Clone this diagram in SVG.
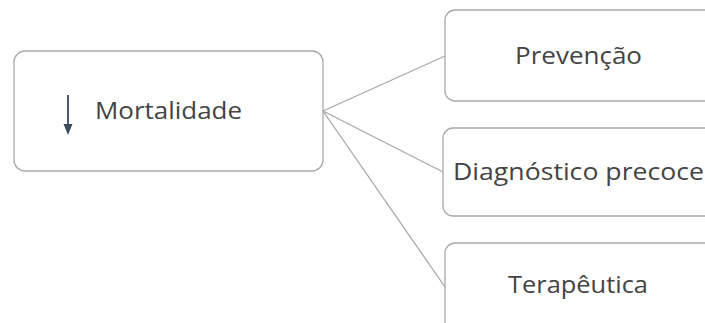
<svg xmlns="http://www.w3.org/2000/svg" width="705" height="323" viewBox="0 0 705 323">
<style>
.box{fill:#fff;stroke:#a8a8a8;stroke-width:1.3}
.t{font-family:"Open Sans","Noto Sans",sans-serif;font-size:23px;fill:#444}
.c{stroke:#a8a8a8;stroke-width:1.3;fill:none}
</style>
<rect width="705" height="323" fill="#fff"/>
<g id="connectors">
<line class="c" x1="323" y1="111" x2="445" y2="56"/>
<line class="c" x1="323" y1="111" x2="443" y2="172"/>
<line class="c" x1="323" y1="111" x2="445" y2="287"/>
</g>
<g id="mortalidade">
<rect class="box" x="14" y="51" width="309" height="120" rx="11"/>
<line x1="68" y1="95" x2="68" y2="127" stroke="#3d4a5e" stroke-width="1.8"/>
<path d="M63.5,124 L72.5,124 L68,135 Z" fill="#3d4a5e"/>
<text class="t" x="95" y="119" textLength="147" lengthAdjust="spacingAndGlyphs">Mortalidade</text>
</g>
<g id="prevencao">
<rect class="box" x="445" y="10" width="280" height="91" rx="10"/>
<text class="t" x="515" y="64" textLength="127" lengthAdjust="spacingAndGlyphs">Prevenção</text>
</g>
<g id="diagnostico">
<rect class="box" x="443" y="128" width="280" height="88" rx="10"/>
<text class="t" x="453" y="180" textLength="251" lengthAdjust="spacingAndGlyphs">Diagnóstico precoce</text>
</g>
<g id="terapeutica">
<rect class="box" x="445" y="243" width="280" height="100" rx="10"/>
<text class="t" x="508" y="293" textLength="140" lengthAdjust="spacingAndGlyphs">Terapêutica</text>
</g>
</svg>
